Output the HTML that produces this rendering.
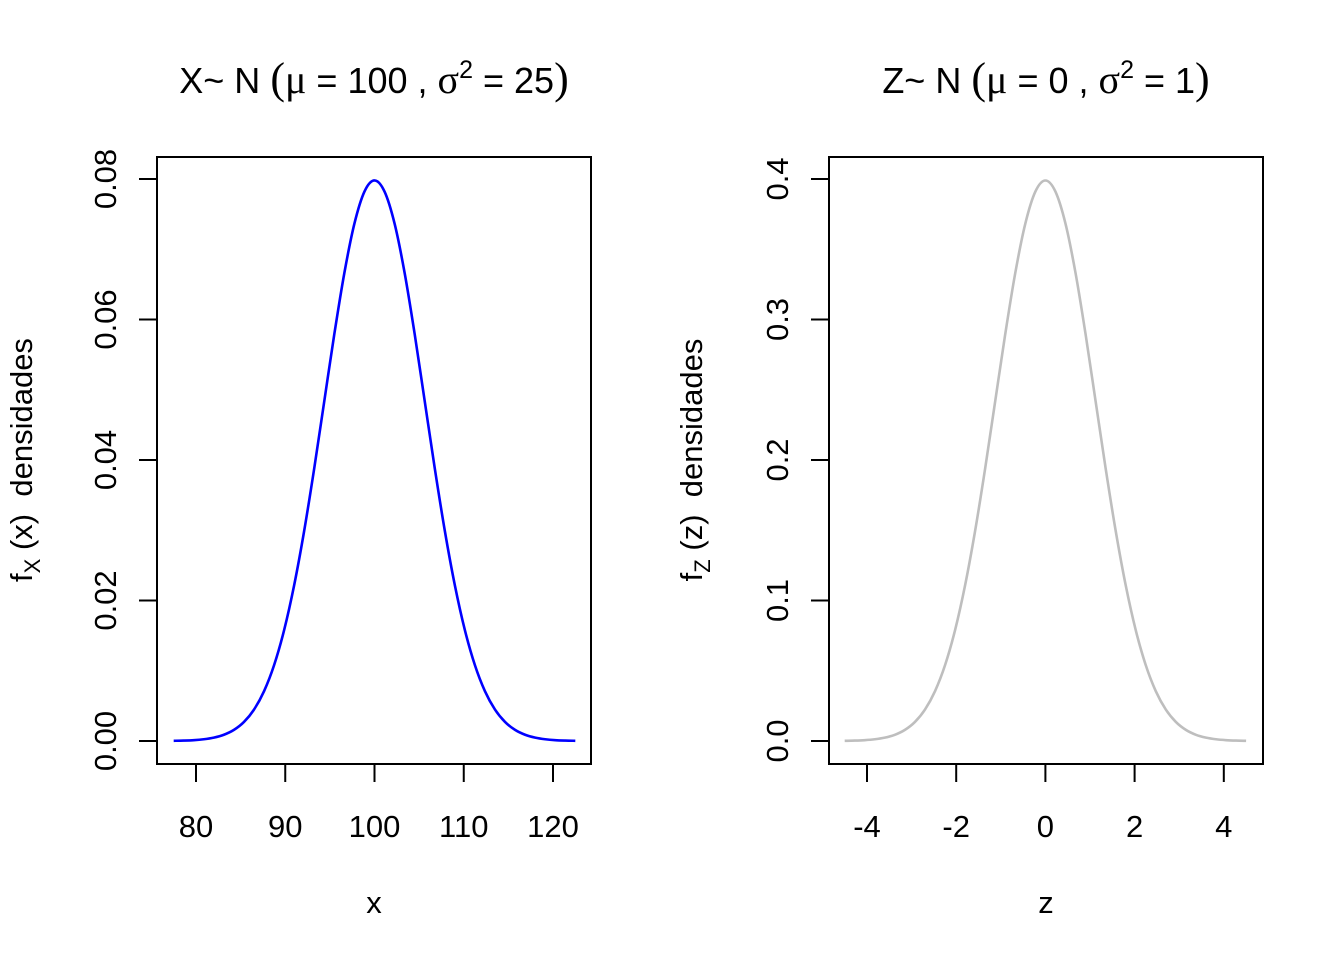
<!DOCTYPE html>
<html><head><meta charset="utf-8"><style>
body{margin:0;background:#fff}
svg text{font-family:"Liberation Sans",sans-serif;fill:#000}
.serif{font-family:"Liberation Serif",serif}
</style></head><body>
<svg id="c" width="1344" height="960" xmlns="http://www.w3.org/2000/svg"></svg>
<script>
const xTicksL=[80,90,100,110,120];
const yTicksL=["0.00","0.02","0.04","0.06","0.08"];
const xTicksR=[-4,-2,0,2,4];
const yTicksR=["0.0","0.1","0.2","0.3","0.4"];
const densX=[0.00003,0.00006,0.00012,0.00025,0.00048,0.00089,0.00158,0.00271,0.00447,0.00709,0.01080,0.01579,0.02219,0.02995,0.03884,0.04839,0.05794,0.06664,0.07365,0.07821,0.07979,0.07821,0.07365,0.06664,0.05794,0.04839,0.03884,0.02995,0.02219,0.01579,0.01080,0.00709,0.00447,0.00271,0.00158,0.00089,0.00048,0.00025,0.00012,0.00006,0.00003];
const densZ=[0.00013,0.00029,0.00061,0.00123,0.00238,0.00443,0.00792,0.01358,0.02239,0.03547,0.05399,0.07895,0.11092,0.14973,0.19419,0.24197,0.28969,0.33322,0.36827,0.39104,0.39894,0.39104,0.36827,0.33322,0.28969,0.24197,0.19419,0.14973,0.11092,0.07895,0.05399,0.03547,0.02239,0.01358,0.00792,0.00443,0.00238,0.00123,0.00061,0.00029,0.00013];
const xStartL=80, xStepL=1, xStartR=-4, xStepR=0.2;
const NS="http://www.w3.org/2000/svg", svg=document.getElementById('c');
function el(t,a,txt){const e=document.createElementNS(NS,t);for(const k in a)e.setAttribute(k,a[k]);if(txt!==undefined)e.textContent=txt;svg.appendChild(e);return e;}
function smooth(pts){let d=`M${pts[0][0]},${pts[0][1]}`;for(let i=0;i<pts.length-1;i++){const p0=pts[Math.max(i-1,0)],p1=pts[i],p2=pts[i+1],p3=pts[Math.min(i+2,pts.length-1)];d+=` C${p1[0]+(p2[0]-p0[0])/6},${p1[1]+(p2[1]-p0[1])/6} ${p2[0]-(p3[0]-p1[0])/6},${p2[1]-(p3[1]-p1[1])/6} ${p2[0]},${p2[1]}`;}return d;}
function panel(o){
 const sx=v=>o.x0+(v-o.xa)*o.kx, sy=v=>741-v*o.ky;
 const box=el('rect',{x:o.bx,y:157,width:434,height:607,fill:'none',stroke:'#000','stroke-width':2});
 
 o.xt.forEach(v=>{const l=el('line',{x1:sx(v),x2:sx(v),y1:764,y2:782,stroke:'#000','stroke-width':2});
  
  const t=el('text',{x:sx(v),y:837,'font-size':31,'text-anchor':'middle'},String(v));
  });
 const xa=el('line',{x1:sx(o.xt[0]),x2:sx(o.xt[o.xt.length-1]),y1:764,y2:764,stroke:'#000','stroke-width':2});
 
 o.yt.forEach(s=>{const v=parseFloat(s),y=sy(v);const l=el('line',{x1:o.bx-18,x2:o.bx,y1:y,y2:y,stroke:'#000','stroke-width':2});
  
  const t=el('text',{x:0,y:0,'font-size':31,'text-anchor':'middle',transform:`translate(${o.bx-41},${y}) rotate(-90)`},s);
  });
 const ya=el('line',{x1:o.bx,x2:o.bx,y1:sy(0),y2:sy(parseFloat(o.yt[o.yt.length-1])),stroke:'#000','stroke-width':2});
 
 const pts=o.d.map((v,i)=>[sx(o.xs+i*o.st),sy(v)]);
 const p=el('path',{d:smooth(pts),fill:'none',stroke:o.col,'stroke-width':2.6});
 
}
panel({id:'left',bx:157,x0:196,xa:80,kx:8.925,ky:7025,xt:xTicksL,yt:yTicksL,d:densX,xs:xStartL-2.5,st:(45/40)*xStepL,col:'#0000ff'});
panel({id:'right',bx:829,x0:867,xa:-4,kx:44.6,ky:1405,xt:xTicksR,yt:yTicksR,d:densZ,xs:xStartR-0.5,st:(9/40)*xStepR*5,col:'#bebebe'});
</script>
<script>
(function(){const svg=document.getElementById('c');
svg.insertAdjacentHTML('beforeend',`
<text x="374" y="93" font-size="36" text-anchor="middle">X~ N <tspan class="serif" font-size="44">(</tspan><tspan class="serif" font-size="40">μ</tspan> = 100 , <tspan class="serif" font-size="40">σ</tspan><tspan dy="-15" font-size="25">2</tspan><tspan dy="15"> = 25</tspan><tspan class="serif" font-size="44">)</tspan></text>
<text x="1046" y="93" font-size="36" text-anchor="middle">Z~ N <tspan class="serif" font-size="44">(</tspan><tspan class="serif" font-size="40">μ</tspan> = 0 , <tspan class="serif" font-size="40">σ</tspan><tspan dy="-15" font-size="25">2</tspan><tspan dy="15"> = 1</tspan><tspan class="serif" font-size="44">)</tspan></text>
<text x="374" y="913" font-size="31" text-anchor="middle">x</text>
<text x="1046" y="913" font-size="31" text-anchor="middle">z</text>
<text transform="translate(32,460) rotate(-90)" font-size="31" text-anchor="middle">f<tspan dy="8" font-size="22">X</tspan><tspan dy="-8" xml:space="preserve"> (x)  densidades</tspan></text>
<text transform="translate(702,460) rotate(-90)" font-size="31" text-anchor="middle">f<tspan dy="8" font-size="22">Z</tspan><tspan dy="-8" xml:space="preserve"> (z)  densidades</tspan></text>`);})();
</script>
</body></html>
